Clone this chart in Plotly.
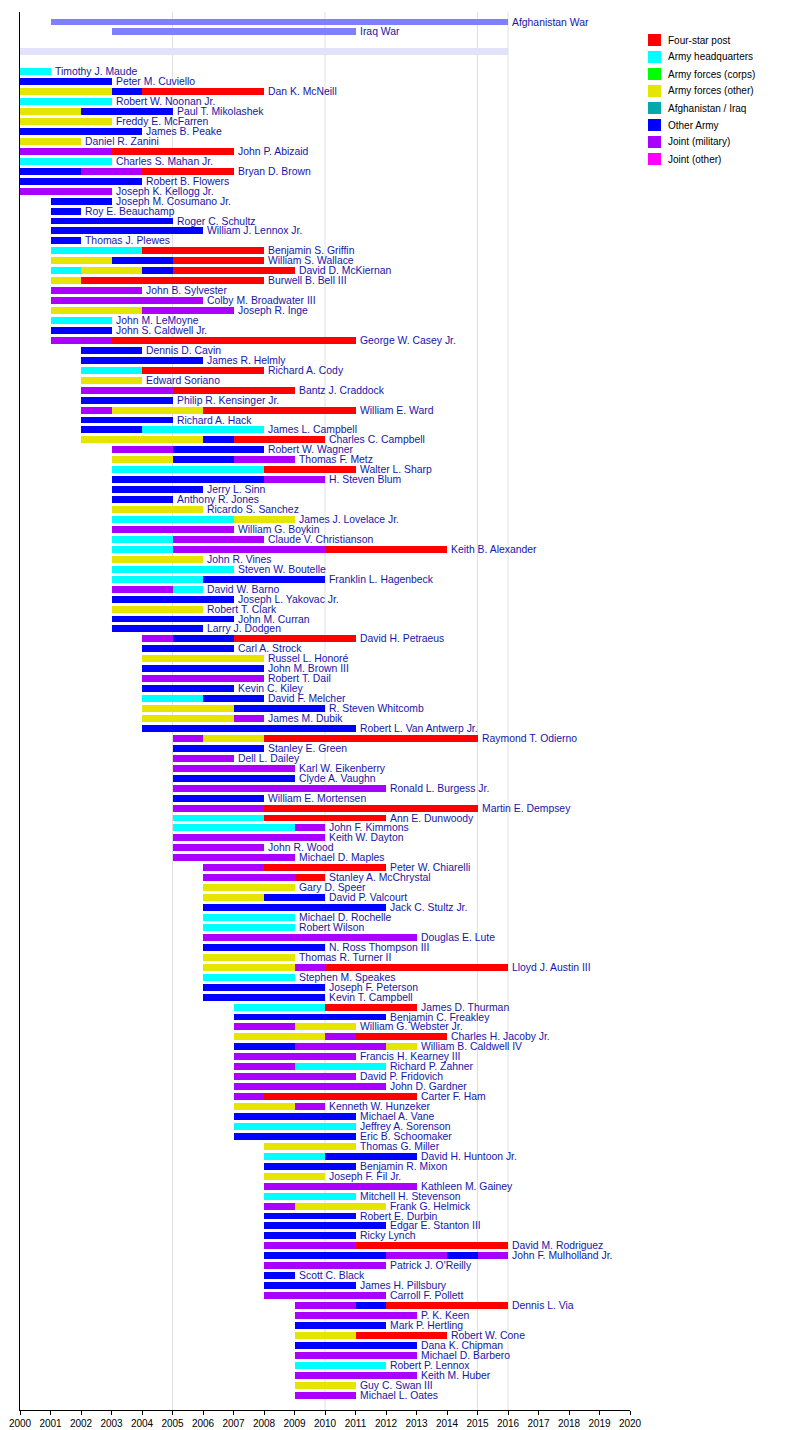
import plotly.graph_objects as go

# ---------------- DATA ----------------
CATEGORIES = ["Four-star post", "Army headquarters", "Army forces (corps)",
              "Army forces (other)", "Afghanistan / Iraq", "Other Army",
              "Joint (military)", "Joint (other)"]
CAT_CODES = ["R", "C", "G", "Y", "T", "B", "P", "M"]

WAR_NAMES = ["Afghanistan War", "Iraq War"]
WAR_START = [2001, 2003]
WAR_END = [2016, 2011]

SEPARATOR_START = [2000]
SEPARATOR_END = [2016]

YEAR_TICKS = list(range(2000, 2021))
GRID_YEARS = [2005, 2010, 2015, 2016]

OFFICERS = [
    ("Timothy J. Maude", [(2000, 2001, "C")]),
    ("Peter M. Cuviello", [(2000, 2003, "B")]),
    ("Dan K. McNeill", [(2000, 2003, "Y"), (2003, 2004, "B"), (2004, 2008, "R")]),
    ("Robert W. Noonan Jr.", [(2000, 2003, "C")]),
    ("Paul T. Mikolashek", [(2000, 2002, "Y"), (2002, 2005, "B")]),
    ("Freddy E. McFarren", [(2000, 2003, "Y")]),
    ("James B. Peake", [(2000, 2004, "B")]),
    ("Daniel R. Zanini", [(2000, 2002, "Y")]),
    ("John P. Abizaid", [(2000, 2003, "P"), (2003, 2007, "R")]),
    ("Charles S. Mahan Jr.", [(2000, 2003, "C")]),
    ("Bryan D. Brown", [(2000, 2002, "B"), (2002, 2004, "P"), (2004, 2007, "R")]),
    ("Robert B. Flowers", [(2000, 2004, "B")]),
    ("Joseph K. Kellogg Jr.", [(2000, 2003, "P")]),
    ("Joseph M. Cosumano Jr.", [(2001, 2003, "B")]),
    ("Roy E. Beauchamp", [(2001, 2002, "B")]),
    ("Roger C. Schultz", [(2001, 2005, "B")]),
    ("William J. Lennox Jr.", [(2001, 2006, "B")]),
    ("Thomas J. Plewes", [(2001, 2002, "B")]),
    ("Benjamin S. Griffin", [(2001, 2004, "C"), (2004, 2008, "R")]),
    ("William S. Wallace", [(2001, 2003, "Y"), (2003, 2005, "B"), (2005, 2008, "R")]),
    ("David D. McKiernan", [(2001, 2002, "C"), (2002, 2004, "Y"), (2004, 2005, "B"), (2005, 2009, "R")]),
    ("Burwell B. Bell III", [(2001, 2002, "Y"), (2002, 2008, "R")]),
    ("John B. Sylvester", [(2001, 2004, "P")]),
    ("Colby M. Broadwater III", [(2001, 2006, "P")]),
    ("Joseph R. Inge", [(2001, 2004, "Y"), (2004, 2007, "P")]),
    ("John M. LeMoyne", [(2001, 2003, "C")]),
    ("John S. Caldwell Jr.", [(2001, 2003, "B")]),
    ("George W. Casey Jr.", [(2001, 2003, "P"), (2003, 2011, "R")]),
    ("Dennis D. Cavin", [(2002, 2004, "B")]),
    ("James R. Helmly", [(2002, 2006, "B")]),
    ("Richard A. Cody", [(2002, 2004, "C"), (2004, 2008, "R")]),
    ("Edward Soriano", [(2002, 2004, "Y")]),
    ("Bantz J. Craddock", [(2002, 2005, "P"), (2005, 2009, "R")]),
    ("Philip R. Kensinger Jr.", [(2002, 2005, "B")]),
    ("William E. Ward", [(2002, 2003, "P"), (2003, 2006, "Y"), (2006, 2011, "R")]),
    ("Richard A. Hack", [(2002, 2005, "B")]),
    ("James L. Campbell", [(2002, 2004, "B"), (2004, 2008, "C")]),
    ("Charles C. Campbell", [(2002, 2006, "Y"), (2006, 2007, "B"), (2007, 2010, "R")]),
    ("Robert W. Wagner", [(2003, 2005, "P"), (2005, 2008, "B")]),
    ("Thomas F. Metz", [(2003, 2005, "Y"), (2005, 2007, "B"), (2007, 2009, "P")]),
    ("Walter L. Sharp", [(2003, 2008, "C"), (2008, 2011, "R")]),
    ("H. Steven Blum", [(2003, 2008, "B"), (2008, 2010, "P")]),
    ("Jerry L. Sinn", [(2003, 2006, "B")]),
    ("Anthony R. Jones", [(2003, 2005, "B")]),
    ("Ricardo S. Sanchez", [(2003, 2006, "Y")]),
    ("James J. Lovelace Jr.", [(2003, 2007, "C"), (2007, 2009, "Y")]),
    ("William G. Boykin", [(2003, 2007, "P")]),
    ("Claude V. Christianson", [(2003, 2005, "C"), (2005, 2008, "P")]),
    ("Keith B. Alexander", [(2003, 2005, "C"), (2005, 2010, "P"), (2010, 2014, "R")]),
    ("John R. Vines", [(2003, 2006, "Y")]),
    ("Steven W. Boutelle", [(2003, 2007, "C")]),
    ("Franklin L. Hagenbeck", [(2003, 2006, "C"), (2006, 2010, "B")]),
    ("David W. Barno", [(2003, 2005, "P"), (2005, 2006, "C")]),
    ("Joseph L. Yakovac Jr.", [(2003, 2007, "B")]),
    ("Robert T. Clark", [(2003, 2006, "Y")]),
    ("John M. Curran", [(2003, 2007, "B")]),
    ("Larry J. Dodgen", [(2003, 2006, "B")]),
    ("David H. Petraeus", [(2004, 2005, "P"), (2005, 2007, "B"), (2007, 2011, "R")]),
    ("Carl A. Strock", [(2004, 2007, "B")]),
    ("Russel L. Honoré", [(2004, 2008, "Y")]),
    ("John M. Brown III", [(2004, 2008, "B")]),
    ("Robert T. Dail", [(2004, 2008, "P")]),
    ("Kevin C. Kiley", [(2004, 2007, "B")]),
    ("David F. Melcher", [(2004, 2006, "C"), (2006, 2008, "B")]),
    ("R. Steven Whitcomb", [(2004, 2007, "Y"), (2007, 2010, "B")]),
    ("James M. Dubik", [(2004, 2007, "Y"), (2007, 2008, "P")]),
    ("Robert L. Van Antwerp Jr.", [(2004, 2011, "B")]),
    ("Raymond T. Odierno", [(2005, 2006, "P"), (2006, 2008, "Y"), (2008, 2015, "R")]),
    ("Stanley E. Green", [(2005, 2008, "B")]),
    ("Dell L. Dailey", [(2005, 2007, "P")]),
    ("Karl W. Eikenberry", [(2005, 2009, "P")]),
    ("Clyde A. Vaughn", [(2005, 2009, "B")]),
    ("Ronald L. Burgess Jr.", [(2005, 2012, "P")]),
    ("William E. Mortensen", [(2005, 2008, "B")]),
    ("Martin E. Dempsey", [(2005, 2008, "P"), (2008, 2015, "R")]),
    ("Ann E. Dunwoody", [(2005, 2008, "C"), (2008, 2012, "R")]),
    ("John F. Kimmons", [(2005, 2009, "C"), (2009, 2010, "P")]),
    ("Keith W. Dayton", [(2005, 2010, "P")]),
    ("John R. Wood", [(2005, 2008, "P")]),
    ("Michael D. Maples", [(2005, 2009, "P")]),
    ("Peter W. Chiarelli", [(2006, 2008, "P"), (2008, 2012, "R")]),
    ("Stanley A. McChrystal", [(2006, 2009, "P"), (2009, 2010, "R")]),
    ("Gary D. Speer", [(2006, 2009, "Y")]),
    ("David P. Valcourt", [(2006, 2008, "Y"), (2008, 2010, "B")]),
    ("Jack C. Stultz Jr.", [(2006, 2012, "B")]),
    ("Michael D. Rochelle", [(2006, 2009, "C")]),
    ("Robert Wilson", [(2006, 2009, "C")]),
    ("Douglas E. Lute", [(2006, 2013, "P")]),
    ("N. Ross Thompson III", [(2006, 2010, "B")]),
    ("Thomas R. Turner II", [(2006, 2009, "Y")]),
    ("Lloyd J. Austin III", [(2006, 2009, "Y"), (2009, 2010, "P"), (2010, 2016, "R")]),
    ("Stephen M. Speakes", [(2006, 2009, "C")]),
    ("Joseph F. Peterson", [(2006, 2010, "B")]),
    ("Kevin T. Campbell", [(2006, 2010, "B")]),
    ("James D. Thurman", [(2007, 2010, "C"), (2010, 2013, "R")]),
    ("Benjamin C. Freakley", [(2007, 2012, "B")]),
    ("William G. Webster Jr.", [(2007, 2009, "P"), (2009, 2011, "Y")]),
    ("Charles H. Jacoby Jr.", [(2007, 2010, "Y"), (2010, 2011, "P"), (2011, 2014, "R")]),
    ("William B. Caldwell IV", [(2007, 2009, "B"), (2009, 2012, "P"), (2012, 2013, "Y")]),
    ("Francis H. Kearney III", [(2007, 2011, "P")]),
    ("Richard P. Zahner", [(2007, 2009, "P"), (2009, 2012, "C")]),
    ("David P. Fridovich", [(2007, 2011, "P")]),
    ("John D. Gardner", [(2007, 2012, "P")]),
    ("Carter F. Ham", [(2007, 2008, "P"), (2008, 2013, "R")]),
    ("Kenneth W. Hunzeker", [(2007, 2009, "Y"), (2009, 2010, "P")]),
    ("Michael A. Vane", [(2007, 2011, "B")]),
    ("Jeffrey A. Sorenson", [(2007, 2011, "C")]),
    ("Eric B. Schoomaker", [(2007, 2011, "B")]),
    ("Thomas G. Miller", [(2008, 2011, "Y")]),
    ("David H. Huntoon Jr.", [(2008, 2010, "C"), (2010, 2013, "B")]),
    ("Benjamin R. Mixon", [(2008, 2011, "B")]),
    ("Joseph F. Fil Jr.", [(2008, 2010, "Y")]),
    ("Kathleen M. Gainey", [(2008, 2013, "P")]),
    ("Mitchell H. Stevenson", [(2008, 2011, "C")]),
    ("Frank G. Helmick", [(2008, 2009, "P"), (2009, 2012, "Y")]),
    ("Robert E. Durbin", [(2008, 2011, "B")]),
    ("Edgar E. Stanton III", [(2008, 2012, "B")]),
    ("Ricky Lynch", [(2008, 2011, "B")]),
    ("David M. Rodriguez", [(2008, 2011, "P"), (2011, 2016, "R")]),
    ("John F. Mulholland Jr.", [(2008, 2012, "B"), (2012, 2014, "P"), (2014, 2015, "B"), (2015, 2016, "P")]),
    ("Patrick J. O'Reilly", [(2008, 2012, "P")]),
    ("Scott C. Black", [(2008, 2009, "B")]),
    ("James H. Pillsbury", [(2008, 2011, "B")]),
    ("Carroll F. Pollett", [(2008, 2012, "P")]),
    ("Dennis L. Via", [(2009, 2011, "P"), (2011, 2012, "B"), (2012, 2016, "R")]),
    ("P. K. Keen", [(2009, 2013, "P")]),
    ("Mark P. Hertling", [(2009, 2012, "B")]),
    ("Robert W. Cone", [(2009, 2011, "Y"), (2011, 2014, "R")]),
    ("Dana K. Chipman", [(2009, 2013, "B")]),
    ("Michael D. Barbero", [(2009, 2013, "P")]),
    ("Robert P. Lennox", [(2009, 2012, "C")]),
    ("Keith M. Huber", [(2009, 2013, "P")]),
    ("Guy C. Swan III", [(2009, 2011, "Y")]),
    ("Michael L. Oates", [(2009, 2011, "P")]),
]

# ---------------- STYLE ----------------
CAT_COLORS = {"R": "#FF0000", "C": "#00FFFF", "G": "#00FF00", "Y": "#E5E500",
              "T": "#00AAAA", "B": "#0000FF", "P": "#AA00FF", "M": "#FF00FF"}
WAR_COLOR = "#8080FF"
SEP_COLOR = "#E2E2FA"
TEXT_COLOR = "#1616A8"
FONT = "Liberation Sans, Arial, sans-serif"
NAME_SIZE = 10.4
BAR_W = 0.7

# plot area in pixels
PX_L, PX_R, PX_T, PX_B = 20, 630, 12, 1410
ROW0_PX, ROW_STEP = 22, 9.95
WAR_ROWS = [0, 1]
SEP_ROW = 3
FIRST_OFFICER_ROW = 5

y_top = (PX_T - ROW0_PX) / ROW_STEP
y_bot = (PX_B - ROW0_PX) / ROW_STEP

fig = go.Figure()

# separator band
fig.add_trace(go.Bar(orientation="h", y=[SEP_ROW], base=SEPARATOR_START,
                     x=[e - s for s, e in zip(SEPARATOR_START, SEPARATOR_END)],
                     width=BAR_W, marker_color=SEP_COLOR, marker_line_width=0,
                     showlegend=False, hoverinfo="skip"))
# wars
fig.add_trace(go.Bar(orientation="h", y=WAR_ROWS, base=WAR_START,
                     x=[e - s for s, e in zip(WAR_START, WAR_END)],
                     width=BAR_W, marker_color=WAR_COLOR, marker_line_width=0,
                     showlegend=False, hovertext=WAR_NAMES, hoverinfo="text"))

# officers per category
for code, cat in zip(CAT_CODES, CATEGORIES):
    ys, bases, lens, hov = [], [], [], []
    for i, (name, segs) in enumerate(OFFICERS):
        for s, e, c in segs:
            if c == code:
                ys.append(FIRST_OFFICER_ROW + i)
                bases.append(s)
                lens.append(e - s)
                hov.append(f"{name}: {cat} {s}-{e}")
    if ys:
        fig.add_trace(go.Bar(orientation="h", y=ys, base=bases, x=lens,
                             width=BAR_W, marker_color=CAT_COLORS[code],
                             marker_line_width=0, name=cat, showlegend=False,
                             hovertext=hov, hoverinfo="text"))

annotations = []
for name, row, end in zip(WAR_NAMES, WAR_ROWS, WAR_END):
    annotations.append(dict(x=end, y=row, xref="x", yref="y", text=name,
                            showarrow=False, xanchor="left", yanchor="middle",
                            xshift=2, font=dict(family=FONT, size=NAME_SIZE, color=TEXT_COLOR)))
for i, (name, segs) in enumerate(OFFICERS):
    end = max(e for _, e, _ in segs)
    annotations.append(dict(x=end, y=FIRST_OFFICER_ROW + i, xref="x", yref="y",
                            text=name, showarrow=False, xanchor="left",
                            yanchor="middle", xshift=2,
                            font=dict(family=FONT, size=NAME_SIZE, color=TEXT_COLOR)))

# legend (manual)
def px_x(px):
    return (px - PX_L) / (PX_R - PX_L)

def px_y(py):
    return (PX_B - py) / (PX_B - PX_T)

shapes = []
for k, (code, cat) in enumerate(zip(CAT_CODES, CATEGORIES)):
    cy = 40 + 17 * k
    shapes.append(dict(type="rect", xref="paper", yref="paper",
                       x0=px_x(648), x1=px_x(661), y0=px_y(cy + 6), y1=px_y(cy - 6),
                       fillcolor=CAT_COLORS[code], line_width=0))
    annotations.append(dict(x=px_x(666), y=px_y(cy), xref="paper", yref="paper",
                            text=cat, showarrow=False, xanchor="left", yanchor="middle",
                            font=dict(family=FONT, size=10, color="black")))

for gx in GRID_YEARS:
    shapes.append(dict(type="line", xref="x", yref="paper", x0=gx, x1=gx, y0=0, y1=1,
                       line=dict(color="#E0E0E0", width=1), layer="below"))

fig.update_layout(
    width=800, height=1430,
    margin=dict(l=PX_L, r=800 - PX_R, t=PX_T, b=1430 - PX_B, pad=0),
    paper_bgcolor="white", plot_bgcolor="white",
    barmode="overlay", bargap=0,
    showlegend=False,
    annotations=annotations, shapes=shapes,
    font=dict(family=FONT, size=11, color="black"),
    xaxis=dict(range=[2000, 2020], tickvals=YEAR_TICKS,
               ticktext=[str(t) for t in YEAR_TICKS], automargin=False,
               showgrid=False, zeroline=False, showline=True, linecolor="black",
               linewidth=1, ticks="outside", ticklen=4, tickcolor="black",
               tickfont=dict(family=FONT, size=10, color="black")),
    yaxis=dict(range=[y_bot, y_top], showticklabels=False, showgrid=False,
               zeroline=False, showline=True, linecolor="black", linewidth=1,
               ticks="", automargin=False),
)

fig.write_html("out.html", config={"displayModeBar": False},
               post_script="document.body.style.margin='0px';document.body.style.overflow='hidden';")
